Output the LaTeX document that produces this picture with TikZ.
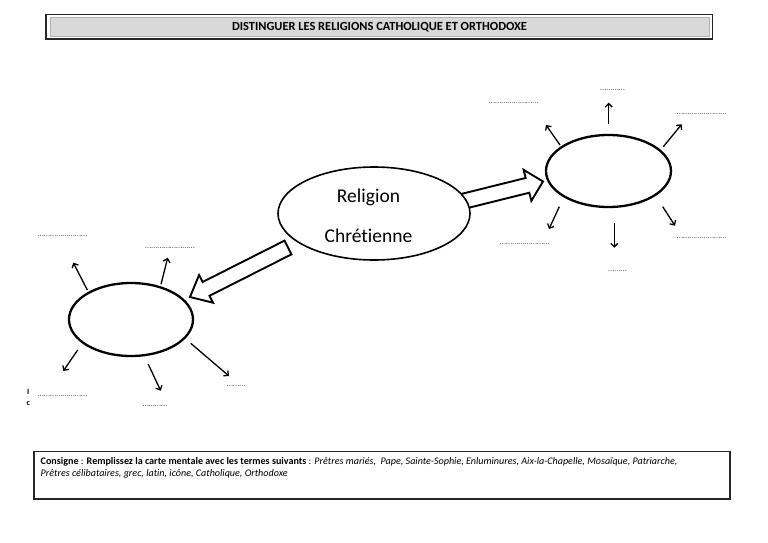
\documentclass[tikz,border=0pt]{standalone}
\usepackage{fontspec}
\setmainfont[Ligatures=NoCommon]{Carlito}
\usetikzlibrary{calc,arrows.meta,shapes.geometric}
\newcommand\blockarrow[5]{% tail, tip, shaft half width, head half width, head length
  \coordinate (bah) at ($(#2)!#5!(#1)$);
  \draw[blockarr] ($(#1)!#3!90:(#2)$) -- ($(bah)!#3!90:(#2)$) -- ($(bah)!#4!90:(#2)$) -- (#2)
    -- ($(bah)!#4!-90:(#2)$) -- ($(bah)!#3!-90:(#2)$) -- ($(#1)!#3!-90:(#2)$) -- cycle;
}
\tikzset{
  blockarr/.style={draw=black, line width=1.9pt, fill=white, line join=miter},
  bubble/.style={draw=black, fill=white, ellipse, inner sep=0pt, line width=2.3pt},
  mainbubble/.style={draw=black, fill=white, ellipse, inner sep=0pt, line width=1.6pt},
  ray/.style={line width=1.3pt, -{Straight Barb[length=3.5pt,width=7pt]}},
  dotlbl/.style={font=\fontsize{9}{9}\selectfont, text=black!60, inner sep=0pt},
  frag/.style={font=\fontsize{8}{8}\selectfont\bfseries, inner sep=0pt},
}
\begin{document}
\begin{tikzpicture}[x=1pt,y=-1pt]
\useasboundingbox (0,0) rectangle (768,543);

% title
\draw[line width=1.2pt, draw=black!85] (46,14.7) rectangle (712.3,39);
\fill[black!15] (50.5,17.8) rectangle (709,36.3);
\draw[black!30, line width=0.6pt] (50.5,17.8) rectangle (709,36.3);
\node[font=\fontsize{12.4}{12.4}\selectfont\bfseries, inner sep=0pt] (title) at (379.5,27) {DISTINGUER LES RELIGIONS CATHOLIQUE ET ORTHODOXE};

% block arrows
\coordinate (rtail) at (462,201.6);
\coordinate (rtip) at (543,181.5);
\coordinate (ltail) at (288,247.5);
\coordinate (ltip) at (190,297);
\blockarrow{rtail}{rtip}{7.6pt}{16pt}{16pt}
\blockarrow{ltail}{ltip}{7.7pt}{15.5pt}{18pt}

% ellipses
\node[mainbubble, minimum width=192pt, minimum height=93pt] (main) at (374,213.5) {};
\node[font=\fontsize{19.5}{19.5}\selectfont, inner sep=0pt] (rel) at (368.5,197) {Religion};
\node[font=\fontsize{19.5}{19.5}\selectfont, inner sep=0pt] (chr) at (368.5,235.5) {Chrétienne};
\node[bubble, minimum width=125pt, minimum height=72pt] (right) at (608.5,171) {};
\node[bubble, minimum width=124pt, minimum height=73pt] (left) at (131,319.5) {};

% rays right
\coordinate (r1a) at (560,145);   \coordinate (r1b) at (546,125);
\coordinate (r2a) at (608.7,124.3); \coordinate (r2b) at (608.7,102.7);
\coordinate (r3a) at (663.3,146.7); \coordinate (r3b) at (681.7,124.3);
\coordinate (r4a) at (559.3,206.7); \coordinate (r4b) at (549,229);
\coordinate (r5a) at (614.3,223.3); \coordinate (r5b) at (614.3,247.7);
\coordinate (r6a) at (662.7,206.7); \coordinate (r6b) at (675,225.7);
\foreach \i in {1,...,6} { \draw[ray] (r\i a) -- (r\i b); }

% rays left
\coordinate (l1a) at (87.3,290);  \coordinate (l1b) at (73.3,262.7);
\coordinate (l2a) at (161,284.3); \coordinate (l2b) at (167.7,257.7);
\coordinate (l3a) at (77.7,350);  \coordinate (l3b) at (63.3,371);
\coordinate (l4a) at (148.3,364.3); \coordinate (l4b) at (160.7,390.7);
\coordinate (l5a) at (190.7,343.3); \coordinate (l5b) at (229,376);
\foreach \i in {1,...,5} { \draw[ray] (l\i a) -- (l\i b); }

% placeholder dots
\node[dotlbl] (d1) at (513.8,102.7) {……………………};
\node[dotlbl] (d2) at (612.5,90) {…………};
\node[dotlbl] (d3) at (701.7,114.3) {……………………};
\node[dotlbl] (d4) at (524.7,244) {……………………};
\node[dotlbl] (d5) at (617.5,271) {………};
\node[dotlbl] (d6) at (701.7,237.7) {……………………};
\node[dotlbl] (d7) at (62.5,235.7) {……………………};
\node[dotlbl] (d8) at (170,247.7) {……………………};
\node[dotlbl] (d9) at (62.5,395.7) {……………………};
\node[dotlbl] (d10) at (155,405.7) {…………};
\node[dotlbl] (d11) at (236.2,386) {………};
\node[frag] (fI) at (28.3,391.7) {I};
\node[frag] (fc) at (28.3,404) {c};

% consigne
\draw[line width=1.2pt, draw=black!85] (34,451.7) rectangle (730,499);
\node[anchor=north west, inner sep=0pt, align=left, font=\fontsize{10.1}{11.9}\selectfont] (cons) at (40.5,457)
 {\textbf{Consigne} : \textbf{Remplissez la carte mentale avec les termes suivants} : \textit{Prêtres mariés,~ Pape, Sainte-Sophie, Enluminures, Aix-la-Chapelle, Mosaïque, Patriarche,}\\
 \textit{Prêtres célibataires, grec, latin, icône, Catholique, Orthodoxe}};
\end{tikzpicture}
\end{document}
